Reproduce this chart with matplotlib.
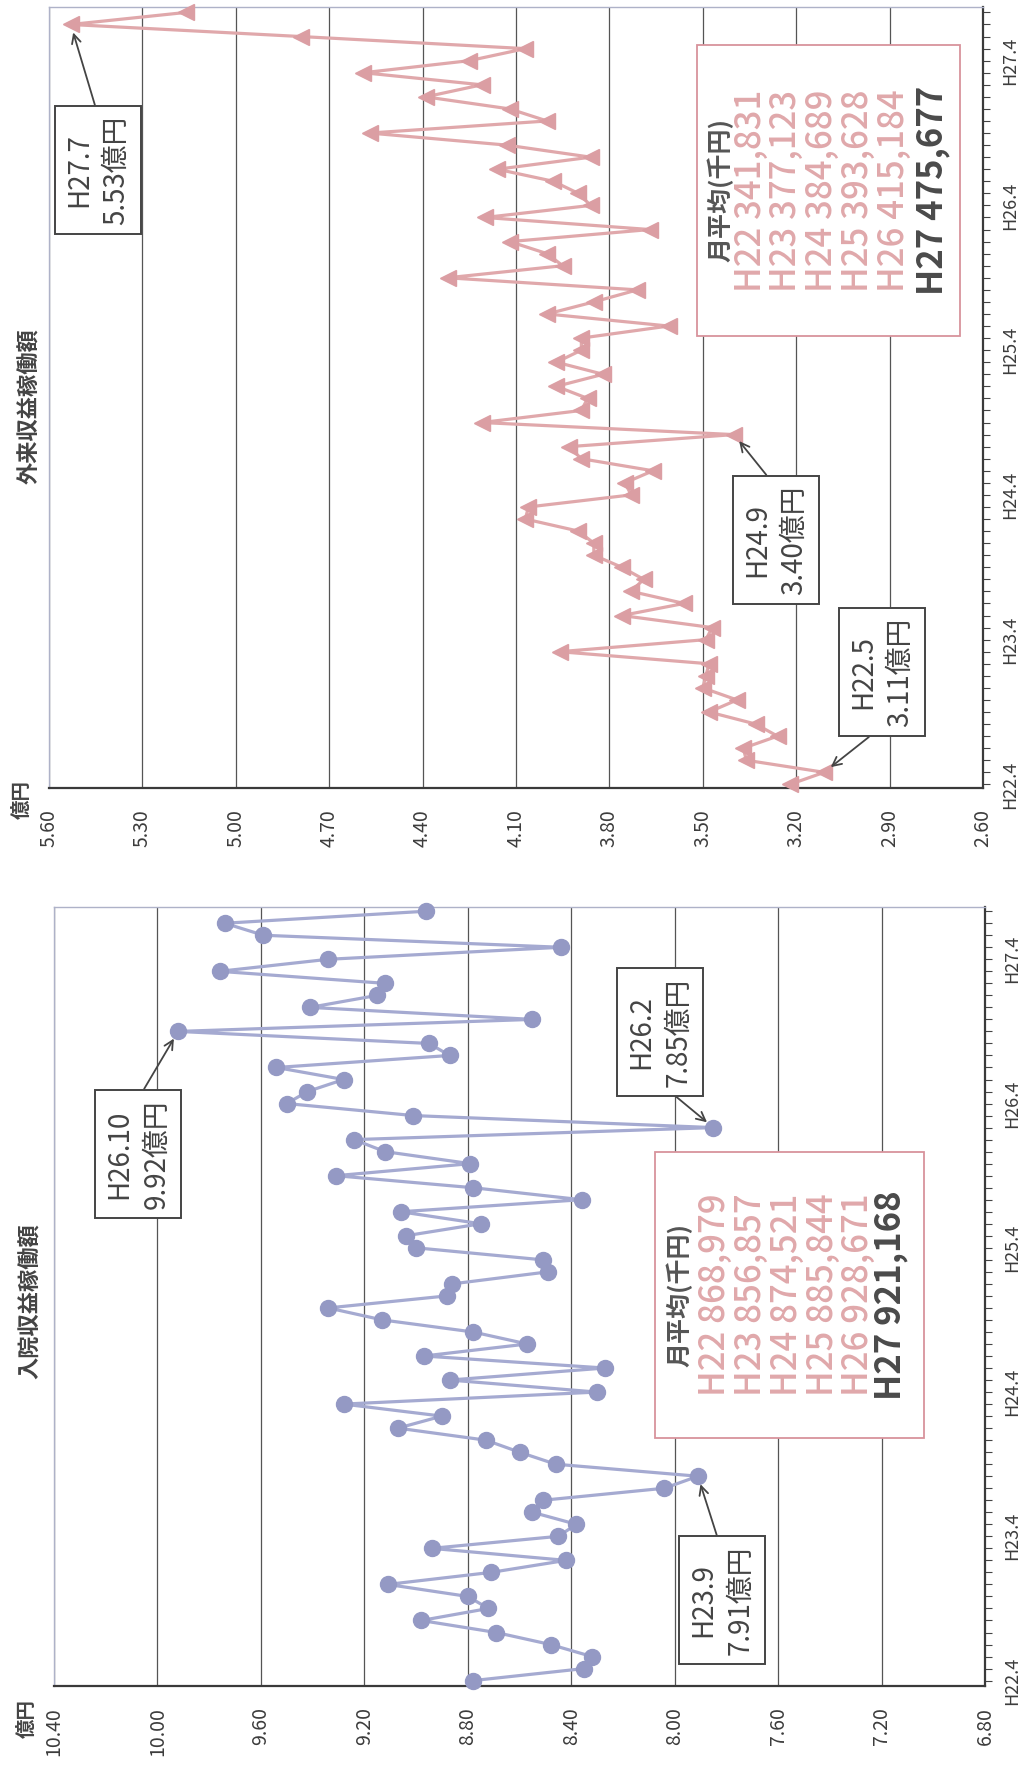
import numpy as np
import matplotlib
matplotlib.use("Agg")
import matplotlib.pyplot as plt
from matplotlib.patches import Rectangle

plt.rcParams['font.family'] = ['Noto Sans CJK JP', 'DejaVu Sans']

W, H = 1033, 1768

# ---------------- データ ----------------
# H22.4 ～ H27.8 の月次 (65ヶ月)
months = list(range(65))
tick_pos = [0, 12, 24, 36, 48, 60]
tick_lab = ["H22.4", "H23.4", "H24.4", "H25.4", "H26.4", "H27.4"]

# 外来収益稼働額 (億円)
gairai = [3.22, 3.11, 3.36, 3.37, 3.26, 3.33, 3.48, 3.39, 3.50, 3.49, 3.48, 3.96,
          3.49, 3.47, 3.76, 3.56, 3.73, 3.69, 3.76, 3.85, 3.85, 3.90, 4.07, 4.06,
          3.73, 3.75, 3.66, 3.89, 3.93, 3.40, 4.21, 3.89, 3.87, 3.97, 3.82, 3.97,
          3.89, 3.89, 3.61, 4.00, 3.85, 3.71, 4.32, 3.95, 4.00, 4.12, 3.67, 4.20,
          3.86, 3.90, 3.98, 4.16, 3.86, 4.13, 4.57, 4.00, 4.12, 4.39, 4.21, 4.59,
          4.25, 4.07, 4.79, 5.53, 5.16]

# 入院収益稼働額 (億円)
nyuin = [8.78, 8.35, 8.32, 8.48, 8.69, 8.98, 8.72, 8.80, 9.11, 8.71, 8.42, 8.94,
         8.45, 8.38, 8.55, 8.51, 8.04, 7.91, 8.46, 8.60, 8.73, 9.07, 8.90, 9.28,
         8.30, 8.87, 8.27, 8.97, 8.57, 8.78, 9.13, 9.34, 8.88, 8.86, 8.49, 8.51,
         9.00, 9.04, 8.75, 9.06, 8.36, 8.78, 9.31, 8.79, 9.12, 9.24, 7.85, 9.01,
         9.50, 9.42, 9.28, 9.54, 8.87, 8.95, 9.92, 8.55, 9.41, 9.15, 9.12, 9.76,
         9.34, 8.44, 9.59, 9.74, 8.96]

# 月平均(千円)
years = ["H22", "H23", "H24", "H25", "H26", "H27"]
gairai_avg = [341831, 377123, 384689, 393628, 415184, 475677]
nyuin_avg = [868979, 856857, 874521, 885844, 928671, 921168]

# 注記 (ラベル, 月インデックス)
gairai_notes = [("H27.7", 63), ("H24.9", 29), ("H22.5", 1)]
nyuin_notes = [("H26.10", 54), ("H26.2", 46), ("H23.9", 17)]

# ---------------- レイアウト (ピクセル) ----------------
PINK = '#DB9EA3'
PINK_L = '#E0A8AB'
BLUE = '#9499C4'
BLUE_L = '#A5AAD1'
DARK = '#3c3c3c'

fig = plt.figure(figsize=(W / 100, H / 100), dpi=100)


def px_axes(l, t, r, b):
    return fig.add_axes([l / W, 1 - b / H, (r - l) / W, (b - t) / H])


def fpx(x, y):
    return x / W, 1 - y / H


def draw_chart(ax, vals, lo, hi, step, ylim, marker, ms, mcol, lcol):
    ax.plot(vals, months, color=lcol, lw=2.3, marker=marker, ms=ms,
            mfc=mcol, mec=mcol, zorder=3, clip_on=False)
    ax.set_xlim(hi, lo)
    ax.set_ylim(*ylim)
    xt = np.round(np.arange(lo, hi + step / 2, step), 2)
    ax.set_xticks(xt, [f"{v:.2f}" for v in xt])
    ax.xaxis.grid(True, color='#555555', lw=0.9)
    ax.set_axisbelow(True)
    ax.tick_params(axis='x', length=0, pad=15, labelrotation=90,
                   labelsize=14, labelcolor=DARK)
    ax.yaxis.tick_right()
    ax.set_yticks(tick_pos, tick_lab)
    ax.set_yticks(months, minor=True)
    ax.tick_params(axis='y', which='both', direction='out', length=5,
                   width=0.8, color='#444444', labelrotation=90,
                   labelsize=13, labelcolor=DARK, pad=8)
    for lbl in ax.get_yticklabels():
        lbl.set_va('center')
    for s in ['bottom', 'right']:
        ax.spines[s].set_color('#3a3a3a')
        ax.spines[s].set_linewidth(1.6)
    for s in ['top', 'left']:
        ax.spines[s].set_color('#AEB2C8')
        ax.spines[s].set_linewidth(1.0)


def notes(ax, vals, items, centers, relposs):
    for (lab, i), (cx, cy), rp in zip(items, centers, relposs):
        ax.annotate(f"{lab}\n{vals[i]:.2f}億円", xy=(vals[i], months[i]),
                    xycoords='data', xytext=(cx, H - cy),
                    textcoords='figure pixels', rotation=90,
                    ha='center', va='center', fontsize=20, color='#444444',
                    linespacing=1.3, annotation_clip=False, zorder=6,
                    bbox=dict(boxstyle='square,pad=0.35', fc='white',
                              ec='#444444', lw=1.4),
                    arrowprops=dict(arrowstyle='->', color='#444444', lw=1.3,
                                    shrinkA=0, shrinkB=6, relpos=rp,
                                    mutation_scale=16))


def avg_box(box, xs, hx, avgs):
    x0, y0, x1, y1 = box
    fig.add_artist(Rectangle((x0 / W, 1 - y1 / H), (x1 - x0) / W, (y1 - y0) / H,
                             transform=fig.transFigure, fc='white',
                             ec='#D8939C', lw=1.3, zorder=5))
    cy = (y0 + y1) / 2
    fig.text(*fpx(hx, cy), "月平均(千円)", rotation=90, ha='center', va='center',
             fontsize=18, fontweight='bold', color='#555555', zorder=6)
    for k, (yr, a) in enumerate(zip(years, avgs)):
        last = k == len(years) - 1
        fig.text(*fpx(xs[k], cy), f"{yr} {a:,}", rotation=90, ha='center',
                 va='center', fontsize=25,
                 fontweight='bold' if last else 'medium',
                 color='#4a4a4a' if last else PINK_L, zorder=6)


# ---------------- 外来 ----------------
ax1 = px_axes(49, 7, 983, 788)
draw_chart(ax1, gairai, 2.60, 5.60, 0.30, (-0.3, 64.45), '<', 11, PINK, PINK_L)
notes(ax1, gairai, gairai_notes,
      [(98, 170), (776, 540), (882, 672)],
      [(0.5, 1.0), (0.48, 1.0), (0.5, 0.0)])
avg_box((697, 45, 960, 336), [751, 786, 822, 858, 894, 932], 720, gairai_avg)
fig.text(*fpx(30, 406), "外来収益稼働額", rotation=90, ha='center', va='center',
         fontsize=16, fontweight='bold', color='#444444')
fig.text(*fpx(22, 800), "億円", rotation=90, ha='center', va='center',
         fontsize=14, fontweight='bold', color='#444444')

# ---------------- 入院 ----------------
ax2 = px_axes(54, 907, 985, 1686)
draw_chart(ax2, nyuin, 6.80, 10.40, 0.40, (-0.45, 64.35), 'o', 11.5, BLUE, BLUE_L)
notes(ax2, nyuin, nyuin_notes,
      [(138, 1154), (660, 1032), (722, 1600)],
      [(0.5, 1.0), (0.56, 0.0), (0.47, 1.0)])
avg_box((655, 1152, 924, 1438), [715, 751, 787, 823, 858, 891], 679, nyuin_avg)
fig.text(*fpx(30, 1301), "入院収益稼働額", rotation=90, ha='center', va='center',
         fontsize=16, fontweight='bold', color='#444444')
fig.text(*fpx(27, 1718), "億円", rotation=90, ha='center', va='center',
         fontsize=14, fontweight='bold', color='#444444')

fig.savefig("out.png", dpi=100, facecolor='white')
